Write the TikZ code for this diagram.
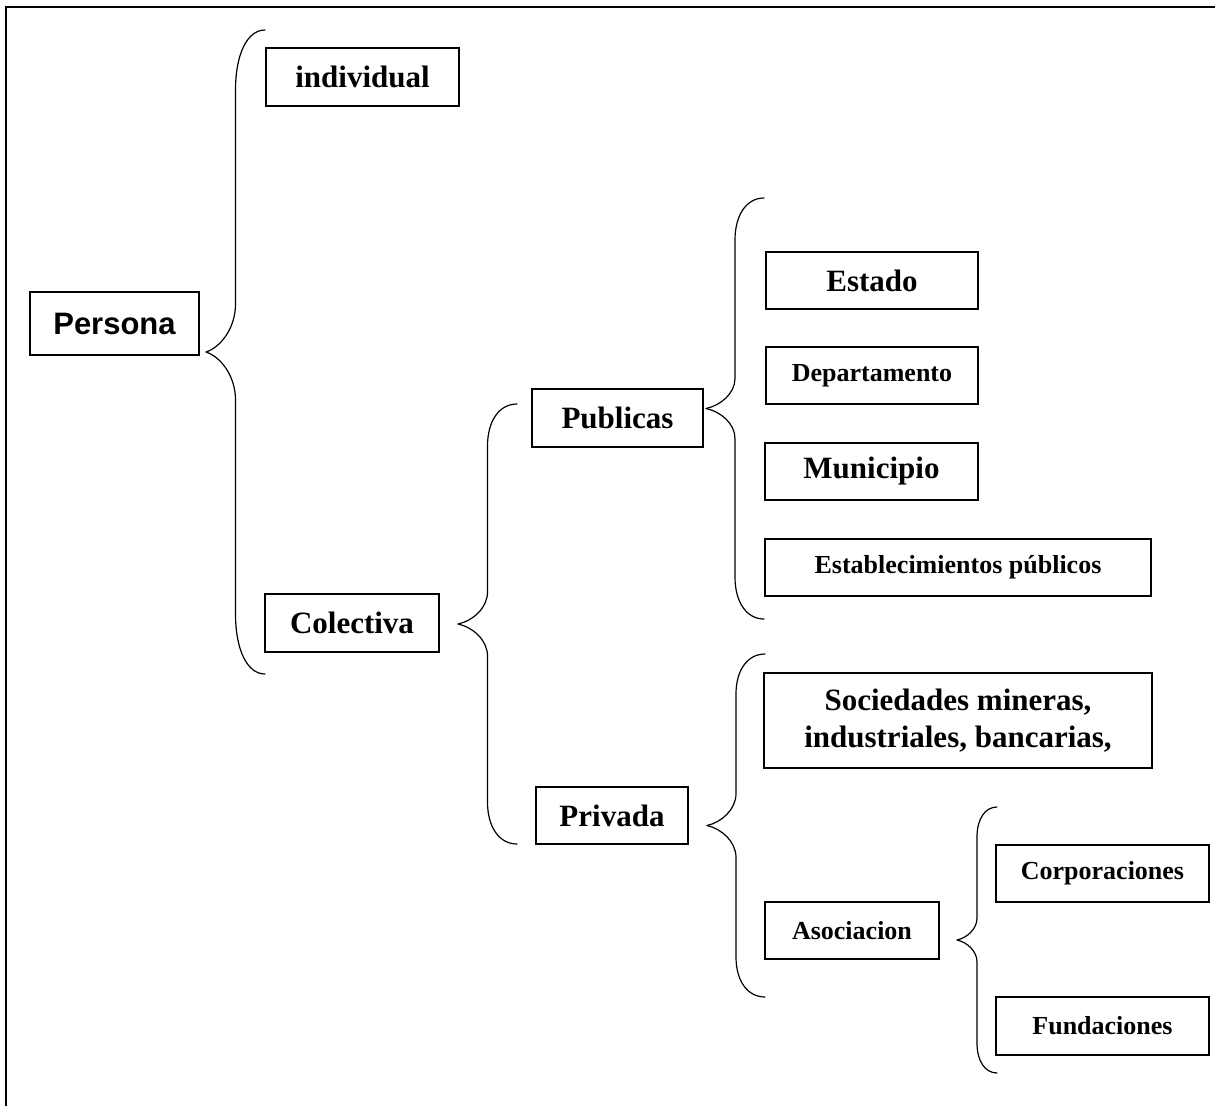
\documentclass[tikz,border=0pt]{standalone}
\usepackage{fontspec}
\setmainfont{Liberation Serif}
\newfontfamily\arialf{Liberation Sans}
\newcommand{\letragrande}{\fontsize{31bp}{37bp}\selectfont\bfseries}
\newcommand{\letrachica}{\fontsize{26bp}{31bp}\selectfont\bfseries}
% llave: #1 punta, #2 semialtura, #3 ancho, #4 curva central, #5 gancho
\newcommand{\llave}[5]{%
  \draw[llavelinea] (#1) .. controls +(0.25*#3,-0.1*#4) and +(0,0.5*#4) .. ++(0.5*#3,-#4)
    -- ++(0,{-(#2)+(#4)+(#5)}) .. controls +(0,-0.6*#5) and +(-0.3*#3,0) .. ++(0.5*#3,-#5);
  \draw[llavelinea] (#1) .. controls +(0.25*#3,0.1*#4) and +(0,-0.5*#4) .. ++(0.5*#3,#4)
    -- ++(0,{(#2)-(#4)-(#5)}) .. controls +(0,0.6*#5) and +(-0.3*#3,0) .. ++(0.5*#3,#5);
}

\begin{document}
\begin{tikzpicture}[x=1bp, y=-1bp,
  caja/.style = {draw, line width=1.3bp, inner sep=0pt, minimum height=57bp, font=\letragrande},
  chica/.style = {font=\letrachica},
  llavelinea/.style = {line width=1.2bp, line cap=round}]
  \useasboundingbox (0,0) rectangle (1215,1106);
  % marco
  \draw[line width=2bp] (6,1106) -- (6,7) -- (1215,7);

  \node[caja, minimum width=169bp, minimum height=63bp, font=\arialf\fontsize{31bp}{37bp}\selectfont\bfseries] (persona) at (114.5,323.5) {Persona};
  \node[caja, minimum width=193bp, minimum height=58bp] (individual) at (362.5,77) {individual};
  \node[caja, minimum width=174bp, minimum height=58bp] (colectiva) at (352,623) {Colectiva};
  \node[caja, minimum width=171bp, minimum height=58bp] (publicas) at (617.5,418) {Publicas};
  \node[caja, minimum width=152bp] (privada) at (612,815.5) {Privada};
  \node[caja, minimum width=212bp] (estado) at (872,280.5) {Estado};
  \node[caja, chica, minimum width=212bp] (departamento) at (872,375.5) {Departamento};
  \node[caja, minimum width=213bp] (municipio) at (871.5,471.5) {Municipio};
  \node[caja, chica, minimum width=386bp] (establecimientos) at (958,567.5) {Establecimientos públicos};
  \node[caja, minimum width=388bp, minimum height=95bp, align=center] (sociedades) at (958,720.5) {Sociedades mineras,\\ industriales, bancarias,};
  \node[caja, chica, minimum width=174bp] (asociacion) at (852,930.5) {Asociacion};
  \node[caja, chica, minimum width=213bp] (corporaciones) at (1102.5,873.5) {Corporaciones};
  \node[caja, chica, minimum width=213bp, minimum height=58bp] (fundaciones) at (1102.5,1026) {Fundaciones};

  % puntas de las llaves
  \coordinate (lpersona) at (206,352);
  \coordinate (lcolectiva) at (458,624);
  \coordinate (lpublicas) at (706,408.5);
  \coordinate (lprivada) at (707,825.5);
  \coordinate (lasociacion) at (957,940);

  \llave{lpersona}{322}{59}{48}{60}
  \llave{lcolectiva}{220}{59}{32}{42}
  \llave{lpublicas}{210.5}{58}{30}{42}
  \llave{lprivada}{171.5}{58}{32}{40}
  \llave{lasociacion}{133}{40}{22}{30}
\end{tikzpicture}
\end{document}
